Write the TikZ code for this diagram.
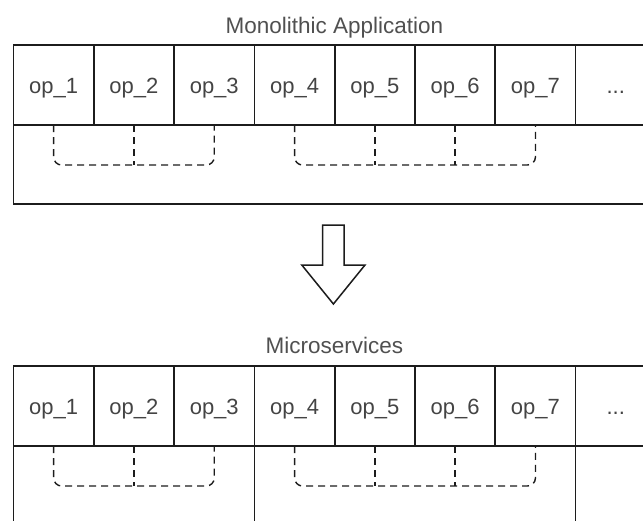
\documentclass[tikz,border=0pt]{standalone}
\usepackage{fontspec}
\setmainfont{Liberation Sans}
\definecolor{linec}{HTML}{1C1C1C}
\definecolor{textc}{HTML}{444444}
\definecolor{titlec}{HTML}{505050}
\newcommand\celldots{...}
\begin{document}
\begin{tikzpicture}[x=1pt,y=-1pt,
  box/.style={draw=linec, line width=1.7pt, outer sep=0pt},
  cell/.style={box, minimum width=80.3pt, minimum height=80pt, inner sep=0pt,
    text height=16pt, text depth=0pt, font=\fontsize{22}{26}\selectfont, text=textc},
  lowbox/.style={box, inner sep=0pt, anchor=north west},
  dep/.style={draw=linec, line width=1.4pt, dash pattern=on 7pt off 5pt},
  title/.style={font=\fontsize{22.5}{26}\selectfont, text=titlec, anchor=base, inner sep=0pt}]
\useasboundingbox (0,0) rectangle (643,520);
\clip (0,0) rectangle (643,520);

% titles
\node[title] (ttop) at (334.5,33) {Monolithic Application};
\node[title] (tbot) at (334.5,353) {Microservices};

% operation cells (top: monolith, bottom: microservices)
\foreach \i/\t in {1/op\_1,2/op\_2,3/op\_3,4/op\_4,5/op\_5,6/op\_6,7/op\_7,8/\celldots}{
  \node[cell] (t\i) at ({13.5+80.3*(\i-0.5)},85) {\t};
  \node[cell] (b\i) at ({13.5+80.3*(\i-0.5)},406) {\t};
}

% monolith lower body
\node[lowbox, minimum width=642.4pt, minimum height=79pt] (tlow) at (t1.south west) {};

% microservices lower bodies
\node[lowbox, minimum width=240.9pt, minimum height=90pt] (blow1) at (b1.south west) {};
\node[lowbox, minimum width=321.2pt, minimum height=90pt] (blow2) at (b4.south west) {};
\node[lowbox, minimum width=80.3pt, minimum height=90pt] (blow3) at (b8.south west) {};

% dependencies (top)
\draw[dep, rounded corners=8pt] (t1.south) -- ++(0,40) -| (t3.south);
\draw[dep] (t2.south) -- ++(0,40);
\draw[dep, rounded corners=8pt] (t4.south) -- ++(0,40) -| (t7.south);
\draw[dep] (t5.south) -- ++(0,40);
\draw[dep] (t6.south) -- ++(0,40);

% dependencies (bottom)
\draw[dep, rounded corners=8pt] (b1.south) -- ++(0,40) -| (b3.south);
\draw[dep] (b2.south) -- ++(0,40);
\draw[dep, rounded corners=8pt] (b4.south) -- ++(0,40) -| (b7.south);
\draw[dep] (b5.south) -- ++(0,40);
\draw[dep] (b6.south) -- ++(0,40);

% block arrow
\draw[draw=linec, line width=1.5pt, line join=miter]
  (322.7,225) -- (344,225) -- (344,265) -- (365,265) -- (333.4,304)
  -- (301.8,265) -- (322.7,265) -- cycle;
\end{tikzpicture}
\end{document}
